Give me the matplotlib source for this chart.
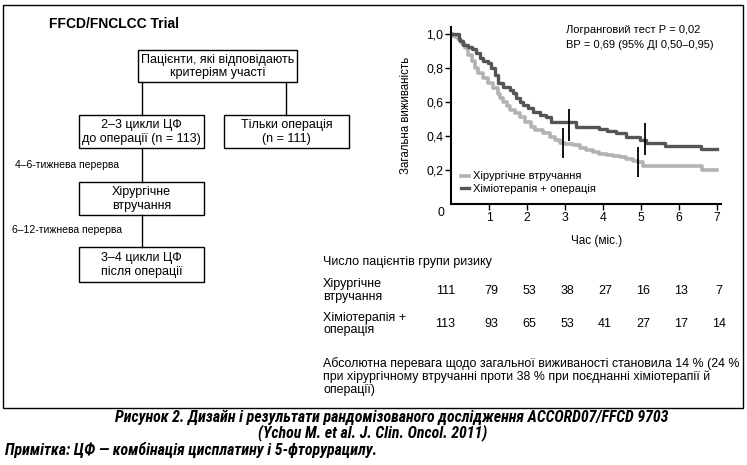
import matplotlib
matplotlib.use("Agg")
import matplotlib.pyplot as plt
from matplotlib import font_manager
from matplotlib.patches import Rectangle
from matplotlib.transforms import blended_transform_factory

# ---- data ----
surg_t = [0, 0.05, 0.1, 0.18, 0.23, 0.3, 0.36, 0.45, 0.54, 0.62, 0.71, 0.84, 0.97,
          1.1, 1.24, 1.3, 1.37, 1.46, 1.54, 1.68, 1.81, 1.94, 2.11, 2.2, 2.42, 2.6,
          2.73, 2.86, 3.0, 3.2, 3.39, 3.55, 3.74, 3.9, 4.09, 4.25, 4.44, 4.6, 4.79,
          4.92, 5.05, 6.6, 7.0]
surg_s = [1.0, 0.99, 0.98, 0.97, 0.96, 0.94, 0.918, 0.878, 0.84, 0.8, 0.77, 0.74, 0.71,
          0.68, 0.645, 0.62, 0.6, 0.575, 0.555, 0.535, 0.51, 0.484, 0.455, 0.435, 0.416,
          0.396, 0.376, 0.357, 0.35, 0.345, 0.33, 0.318, 0.305, 0.295, 0.285, 0.28,
          0.275, 0.265, 0.255, 0.245, 0.224, 0.2, 0.2]
chemo_t = [0, 0.2, 0.23, 0.32, 0.45, 0.54, 0.67, 0.76, 0.84, 0.97, 1.06, 1.15, 1.24,
           1.37, 1.54, 1.63, 1.72, 1.81, 1.89, 2.03, 2.16, 2.33, 2.51, 2.64, 3.3, 3.9,
           4.09, 4.35, 4.61, 4.96, 5.14, 5.62, 6.58, 7.0]
chemo_s = [1.0, 0.97, 0.957, 0.937, 0.925, 0.908, 0.888, 0.86, 0.84, 0.83, 0.8, 0.76,
           0.71, 0.69, 0.672, 0.65, 0.625, 0.6, 0.58, 0.563, 0.543, 0.524, 0.514, 0.48,
           0.45, 0.44, 0.43, 0.415, 0.396, 0.378, 0.36, 0.34, 0.325, 0.325]

# vertical marks: (time, low, high)
surg_marks = [(2.95, 0.27, 0.445), (4.92, 0.16, 0.337)]
chemo_marks = [(3.1, 0.37, 0.56), (5.1, 0.29, 0.475)]

series_labels = ["Хірургічне втручання", "Хіміотерапія + операція"]
stats_lines = ["Логранговий тест Р = 0,02", "ВР = 0,69 (95% ДІ 0,50–0,95)"]

risk_times = [0, 1, 2, 3, 4, 5, 6, 7]
risk_surg = [111, 79, 53, 38, 27, 16, 13, 7]
risk_chemo = [113, 93, 65, 53, 41, 27, 17, 14]
risk_rows = ["Хірургічне\nвтручання", "Хіміотерапія +\nоперація"]

flow_boxes = [
    ("Пацієнти, які відповідають\nкритеріям участі", 137.7, 50, 159, 31.7),
    ("2–3 цикли ЦФ\nдо операції (n = 113)", 79, 115, 125, 33.3),
    ("Тільки операція\n(n = 111)", 224.3, 115, 125, 33.3),
    ("Хірургічне\nвтручання", 79, 181.7, 125, 33.3),
    ("3–4 цикли ЦФ\nпісля операції", 79, 247.3, 125, 34.4),
]
flow_links = [(141.7, 81.7, 115), (286, 81.7, 115), (141.7, 148.3, 181.7), (141.7, 215, 247.3)]
gap_labels = [("4–6-тижнева перерва", 15, 165), ("6–12-тижнева перерва", 12, 230)]

caption = ["Рисунок 2. Дизайн і результати рандомізованого дослідження ACCORD07/FFCD 9703",
           "(Ychou M. et al. J. Clin. Oncol. 2011)"]
note = "Примітка: ЦФ — комбінація цисплатину і 5-фторурацилу."
summary = ("Абсолютна перевага щодо загальної виживаності становила 14 % (24 %\n"
           "при хірургічному втручанні проти 38 % при поєднанні хіміотерапії й\n"
           "операції)")


def pick_font(names, fallback):
    for n in names:
        try:
            font_manager.findfont(n, fallback_to_default=False)
            return n
        except Exception:
            pass
    return fallback


plt.rcParams["font.family"] = ["Liberation Sans", "DejaVu Sans"]
narrow = pick_font(["Liberation Sans Narrow", "Roboto Condensed"], "Liberation Sans")
cap_size = 11.4 if narrow != "Liberation Sans" else 9.3

LIGHT = "#b3b3b3"
DARK = "#555555"

fig = plt.figure(figsize=(7.47, 4.65), dpi=100)
bg = fig.add_axes([0, 0, 1, 1])
bg.set_xlim(0, 747)
bg.set_ylim(465, 0)
bg.axis("off")

# outer frame
bg.add_patch(Rectangle((3, 5), 740, 403, fill=False, lw=1.0, ec="black"))
bg.text(49, 24, "FFCD/FNCLCC Trial", fontsize=10, fontweight="bold", va="center")

# flowchart
for text, x, y, w, h in flow_boxes:
    bg.add_patch(Rectangle((x, y), w, h, fill=False, lw=1.0, ec="black"))
    bg.text(x + w / 2, y + h / 2 + 0.5, text, ha="center", va="center",
            fontsize=9, linespacing=1.15)
for x, y0, y1 in flow_links:
    bg.plot([x, x], [y0, y1], color="black", lw=1.0)
for text, x, y in gap_labels:
    bg.text(x, y, text, fontsize=7.5, va="center")

# survival plot
ax = fig.add_axes([451 / 747, (465 - 204) / 465, 270 / 747, 177 / 465])
ax.step(surg_t, surg_s, where="post", color=LIGHT, lw=2.6, label=series_labels[0])
ax.step(chemo_t, chemo_s, where="post", color=DARK, lw=2.4, label=series_labels[1])
for t, lo, hi in surg_marks + chemo_marks:
    ax.vlines(t, lo, hi, color="black", lw=1.3)

ax.set_xlim(0, 7.1)
ax.set_ylim(0, 1.04)
ax.set_xticks(range(1, 8))
ax.set_yticks([0.2, 0.4, 0.6, 0.8, 1.0])
ax.set_yticklabels(["0,2", "0,4", "0,6", "0,8", "1,0"])
ax.tick_params(labelsize=8.8, length=4, width=1.0, pad=1.5)
for side in ("top", "right"):
    ax.spines[side].set_visible(False)
for side in ("left", "bottom"):
    ax.spines[side].set_linewidth(1.5)
ax.annotate("0", (0, 0), xytext=(-10, -9), textcoords="offset pixels",
            ha="center", va="center", fontsize=8.8)
ax.set_ylabel("Загальна виживаність", fontsize=8.3)
ax.yaxis.set_label_coords(-0.144, 0.5)
ax.set_xlabel("Час (міс.)", fontsize=8.5)
ax.xaxis.set_label_coords(0.54, -0.175)
ax.text(0.425, 0.94, "\n".join(stats_lines), transform=ax.transAxes, fontsize=8,
        va="center", linespacing=1.55)
ax.legend(loc="lower left", bbox_to_anchor=(0.02, 0.03), frameon=False, fontsize=8,
          handlelength=0.7, handletextpad=0.35, labelspacing=0.25, borderaxespad=0)

# at-risk table
bg.text(323, 262, "Число пацієнтів групи ризику", fontsize=9, va="center")
bg.text(323, 290.7, risk_rows[0], fontsize=9, va="center", linespacing=1.05)
bg.text(323, 324, risk_rows[1], fontsize=9, va="center", linespacing=1.05)
row_tr = blended_transform_factory(ax.transData, bg.transData)
for t, a, b in zip(risk_times, risk_surg, risk_chemo):
    dx = -0.15 if t == 0 else 0.05
    bg.text(t + dx, 290.7, str(a), transform=row_tr, ha="center", va="center", fontsize=9)
    bg.text(t + dx, 324, str(b), transform=row_tr, ha="center", va="center", fontsize=9)

bg.text(323, 376.7, summary, fontsize=8.9, va="center", linespacing=1.1)

# caption
cap_kw = dict(family=narrow, fontsize=cap_size, fontweight="bold", style="italic", va="center")
bg.text(392, 417, caption[0], ha="center", **cap_kw)
bg.text(373, 433, caption[1], ha="center", **cap_kw)
bg.text(5, 450, note, ha="left", **cap_kw)

fig.savefig("out.png", dpi=100)
